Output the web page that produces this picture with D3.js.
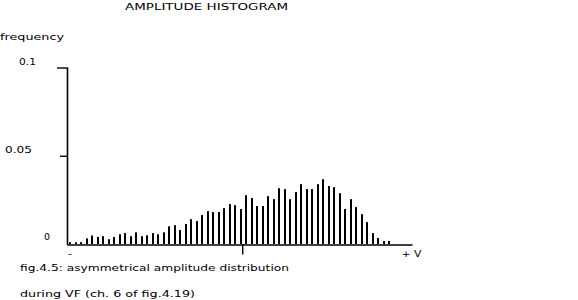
<!DOCTYPE html>
<html>
<head>
<meta charset="utf-8">
<script src="https://cdn.jsdelivr.net/npm/d3@7"></script>
<style>
  html, body { margin: 0; padding: 0; background: #fff; }
  svg { display: block; }
  text { font-family: "DejaVu Sans", sans-serif; font-size: 9.5px; fill: #000; }
</style>
</head>
<body>
<svg id="chart" width="578" height="300"></svg>
<script>
// ---- data ----
const title = "AMPLITUDE HISTOGRAM";
const yLabel = "frequency";
const caption1 = "fig.4.5: asymmetrical amplitude distribution";
const caption2 = "during VF (ch. 6 of fig.4.19)";
const bins = d3.range(1, 60); // amplitude bins from "-" to "+V"
const frequency = [
  0.0010, 0.0010, 0.0010, 0.0032, 0.0048, 0.0040, 0.0044, 0.0027, 0.0040, 0.0055,
  0.0062, 0.0044, 0.0066, 0.0044, 0.0049, 0.0062, 0.0055, 0.0066, 0.0100, 0.0107,
  0.0079, 0.0113, 0.0141, 0.0130, 0.0164, 0.0186, 0.0181, 0.0181, 0.0203, 0.0226,
  0.0220, 0.0198, 0.0277, 0.0260, 0.0215, 0.0215, 0.0271, 0.0254, 0.0316, 0.0311,
  0.0254, 0.0294, 0.0339, 0.0311, 0.0311, 0.0339, 0.0367, 0.0328, 0.0322, 0.0288,
  0.0198, 0.0254, 0.0209, 0.0169, 0.0124, 0.0062, 0.0034, 0.0017, 0.0017
];
const yTickValues = [0, 0.05, 0.1];
const yTickLabels = ["0", "0.05", "0.1"];
const xTickValues = [0.45, 31.75, 62.5];
const xTickLabels = ["-", "", "+ V"];

// ---- layout ----
const svg = d3.select("#chart");
const x = d3.scaleLinear().domain([-0.1, 62.6]).range([67, 412]);
const y = d3.scaleLinear().domain([0, 0.1]).range([244, 67.5]);

// bars (vertical line histogram)
svg.append("g").selectAll("rect")
  .data(frequency)
  .join("rect")
  .attr("x", (d, i) => Math.round(x(bins[i] - 0.55)) - 1)
  .attr("width", 2)
  .attr("y", d => y(d))
  .attr("height", d => y(0) - y(d))
  .attr("fill", "#000");

// y axis
const yAxis = d3.axisLeft(y).tickValues(yTickValues).tickFormat("").tickSizeOuter(0);
const gy = svg.append("g").attr("transform", "translate(67.5,0)").call(yAxis);
gy.select(".domain").attr("stroke", "#000").attr("stroke-width", 1.6)
  .attr("d", `M0,${y(0.1)}V${y(0) + 1}`);
gy.selectAll(".tick line")
  .attr("stroke", "#000").attr("stroke-width", 1.4)
  .attr("x2", d => d === 0 ? 0 : (d === 0.1 ? -10.5 : -7.5));
// label boxes: [left x, baseline y, width]
const yLabelPos = { 0: [44, 240, 6], 0.05: [5, 153, 27], 0.1: [19, 65, 17] };
svg.append("g").selectAll("text")
  .data(yTickValues)
  .join("text")
  .attr("x", d => yLabelPos[d][0])
  .attr("y", d => yLabelPos[d][1])
  .attr("textLength", d => yLabelPos[d][2])
  .attr("lengthAdjust", "spacingAndGlyphs")
  .text((d, i) => yTickLabels[i]);

// x axis
const xAxis = d3.axisBottom(x).tickValues([xTickValues[1]]).tickFormat("").tickSize(10).tickSizeOuter(0);
const gx = svg.append("g").attr("transform", `translate(0,${y(0) + 0.5})`).call(xAxis);
gx.select(".domain").attr("stroke", "#000").attr("stroke-width", 1.6);
gx.selectAll(".tick line").attr("stroke", "#000").attr("stroke-width", 1.4);
const xLabelWidth = { "-": 4, "+ V": 20 };
svg.append("g").selectAll("text")
  .data(xTickValues.filter((d, i) => xTickLabels[i] !== ""))
  .join("text")
  .attr("x", d => x(d) - xLabelWidth[xTickLabels[xTickValues.indexOf(d)]] / 2)
  .attr("y", 257)
  .attr("textLength", d => xLabelWidth[xTickLabels[xTickValues.indexOf(d)]])
  .attr("lengthAdjust", "spacingAndGlyphs")
  .text(d => xTickLabels[xTickValues.indexOf(d)]);

// texts
function label(str, xPos, yPos, len) {
  svg.append("text").attr("x", xPos).attr("y", yPos)
    .attr("textLength", len).attr("lengthAdjust", "spacingAndGlyphs").text(str);
}
label(title, 125, 10, 163);
label(yLabel, 0, 40, 64);
label(caption1, 20, 271, 269);
label(caption2, 20, 297, 175);
</script>
</body>
</html>
